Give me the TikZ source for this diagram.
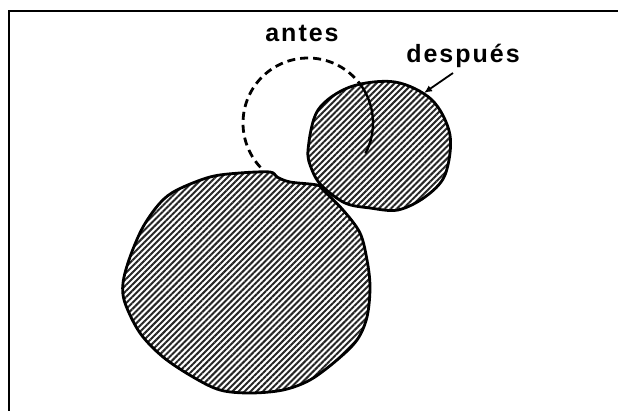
\documentclass[tikz,border=0pt]{standalone}
\usepackage{fontspec}
\setmainfont{Liberation Sans}
\usetikzlibrary{patterns.meta,arrows.meta}
\begin{document}
\begin{tikzpicture}[x=1pt,y=1pt,
  hatch/.style={pattern={Lines[angle=45,distance=4.3pt,line width=2pt]},pattern color=black!85},
  outline/.style={line width=2.8pt,line join=round},
  lbl/.style={font=\fontsize{25}{27}\selectfont\bfseries\addfontfeatures{LetterSpace=8},anchor=base,inner sep=0pt}]
\useasboundingbox (0,0) rectangle (618,411);
\fill[white] (0,0) rectangle (618,411);
% frame
\draw[line width=2.5pt] (9,0) -- (9,400) -- (618,400);
% big body
\draw[outline,hatch] plot[smooth cycle,tension=0.55] coordinates {(177,221) (210,234) (240,238) (270,239) (277,234) (290,229) (317,226) (323,221) (343,201) (360,178) (367,151) (370,124) (367,94) (357,71) (337,51) (310,31) (283,21) (250,18) (220,21) (193,34) (163,54) (140,78) (125,108) (123,128) (130,154) (143,184) (160,208)};
% antes (dashed)
\draw[line width=2.8pt,dash pattern=on 8pt off 5pt] (308,288) ++(223:65) arc[start angle=223,end angle=37,radius=65];
% despues circle
\draw[outline,hatch] plot[smooth cycle,tension=0.55] coordinates {(308,261) (318,301) (350,324) (395,329) (432,311) (450,276) (445,236) (425,214) (398,201) (370,203) (345,208) (322,225) (312,241)};
% antes inside
\draw[line width=2.4pt] (308,288) ++(37:65) arc[start angle=37,end angle=-28,radius=65];
% labels
\node[lbl] (antes) at (302,369) {antes};
\node[lbl] (desp) at (463,348) {después};
\coordinate (aS) at (453,338);
\coordinate (aE) at (424,318);
\draw[line width=1.8pt,-{Latex[length=8pt,width=7pt]}] (aS) -- (aE);
\end{tikzpicture}
\end{document}
